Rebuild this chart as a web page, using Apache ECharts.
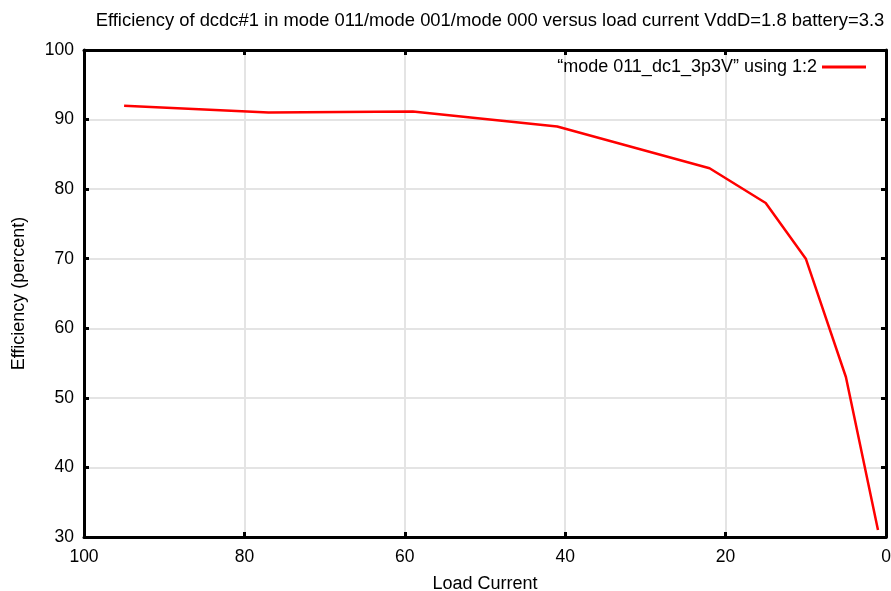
<!DOCTYPE html>
<html>
<head>
<meta charset="utf-8">
<script src="https://cdn.jsdelivr.net/npm/echarts@6/dist/echarts.min.js"></script>
<style>
  html, body { margin: 0; padding: 0; background: #fff; }
  #chart { width: 891px; height: 591px; }
</style>
</head>
<body>
<div id="chart"></div>
<script>
// Load current (x) and efficiency in percent (y) for dcdc#1
const loadCurrent = [95, 77, 77, 59, 41, 22, 15, 10, 5, 1];
const efficiency = [92, 91, 91.15, 91.15, 89, 83, 78, 70, 53, 31];
const seriesName = '\u201Cmode 011_dc1_3p3V\u201D using 1:2';
const titleText = 'Efficiency of dcdc#1 in mode 011/mode 001/mode 000 versus load current VddD=1.8 battery=3.3';

const points = loadCurrent.map((x, i) => [x, efficiency[i]]);
const font = 'Liberation Sans, Arial, sans-serif';

const borderLine = { show: true, onZero: false, lineStyle: { color: '#000', width: 3 } };
const tick = { show: true, inside: true, length: 5, lineStyle: { color: '#000', width: 3 } };

const chart = echarts.init(document.getElementById('chart'), null, { renderer: 'canvas' });
chart.setOption({
  animation: false,
  backgroundColor: '#fff',
  title: {
    text: titleText,
    left: 485, top: 7, textAlign: 'center',
    textStyle: { fontFamily: font, fontSize: 18.4, fontWeight: 'normal', color: '#000' }
  },
  legend: {
    right: 20, top: 53,
    align: 'right',
    icon: 'rect',
    itemWidth: 44, itemHeight: 3,
    itemGap: 6,
    textStyle: { fontFamily: font, fontSize: 18, color: '#000' },
    data: [seriesName]
  },
  grid: { left: 84, right: 5, top: 50, bottom: 54, containLabel: false, outerBoundsMode: 'none' },
  xAxis: [
    {
      type: 'value', min: 0, max: 100, interval: 20, inverse: true,
      name: 'Load Current', nameLocation: 'middle', nameGap: 38,
      nameTextStyle: { fontFamily: font, fontSize: 18, color: '#000' },
      axisLine: borderLine, axisTick: tick,
      axisLabel: { fontFamily: font, fontSize: 17.5, color: '#000', margin: 11 },
      splitLine: { show: true, lineStyle: { color: '#e4e4e4', width: 2 } }
    },
    {
      type: 'value', min: 0, max: 100, interval: 20, inverse: true, position: 'top',
      axisLine: borderLine, axisTick: tick,
      axisLabel: { show: false }, splitLine: { show: false }
    }
  ],
  yAxis: [
    {
      type: 'value', min: 30, max: 100, interval: 10,
      name: 'Efficiency (percent)', nameLocation: 'middle', nameGap: 56, nameRotate: 90,
      nameTextStyle: { fontFamily: font, fontSize: 18, color: '#000' },
      axisLine: borderLine, axisTick: tick,
      axisLabel: { fontFamily: font, fontSize: 17.5, color: '#000', margin: 10 },
      splitLine: { show: true, lineStyle: { color: '#e4e4e4', width: 2 } }
    },
    {
      type: 'value', min: 30, max: 100, interval: 10, position: 'right',
      axisLine: borderLine, axisTick: tick,
      axisLabel: { show: false }, splitLine: { show: false }
    }
  ],
  series: [{
    name: seriesName,
    type: 'line',
    data: points,
    showSymbol: false,
    symbol: 'none',
    color: '#ff0000',
    lineStyle: { color: '#ff0000', width: 2.5 },
    z: 5
  }]
});
</script>
</body>
</html>
